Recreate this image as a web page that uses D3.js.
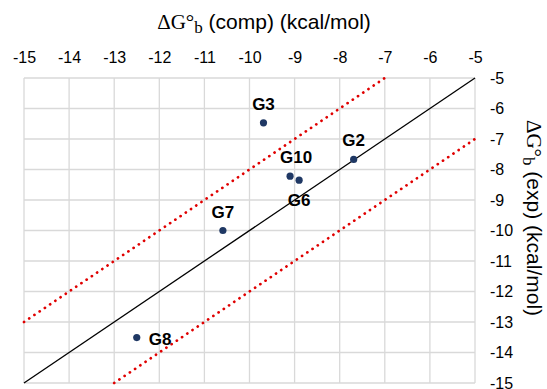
<!DOCTYPE html>
<html>
<head>
<meta charset="utf-8">
<script src="https://cdn.jsdelivr.net/npm/d3@7"></script>
<style>
  html, body { margin: 0; padding: 0; background: #fff; }
  svg { display: block; }
</style>
</head>
<body>
<svg id="chart" width="547" height="389"></svg>
<script>
// Binding free energies: computed vs experimental (kcal/mol)
const names = ["G2", "G3", "G6", "G7", "G8", "G10"];
const compValues = [-7.69, -9.69, -8.90, -10.59, -12.50, -9.10];
const expValues = [-7.67, -6.47, -8.35, -10.00, -13.51, -8.22];
const labelSides = ["above", "above", "below", "above", "right", "above"];
const tickValues = [-15, -14, -13, -12, -11, -10, -9, -8, -7, -6, -5];
const axisDomain = [-15, -5];
const bandOffsets = [2, -2];

const svg = d3.select("#chart");
const plotLeft = 24, plotRight = 475, plotTop = 78, plotBottom = 383;

const x = d3.scaleLinear().domain(axisDomain).range([plotLeft, plotRight]);
const y = d3.scaleLinear().domain(axisDomain).range([plotBottom, plotTop]);

const gridColor = "#d9d9d9";
const fontSans = "'Liberation Sans', Arial, sans-serif";
const fontSerif = "'Liberation Serif', 'Times New Roman', serif";
const fmt = d => d3.format("d")(d).replace("\u2212", "-");

// Grid
const grid = svg.append("g");
grid.selectAll("line.vx").data(tickValues).join("line")
  .attr("class", "vx")
  .attr("x1", d => x(d)).attr("x2", d => x(d))
  .attr("y1", plotTop).attr("y2", plotBottom)
  .attr("stroke", gridColor).attr("stroke-width", 1.3);
grid.selectAll("line.hy").data(tickValues).join("line")
  .attr("class", "hy")
  .attr("y1", d => y(d)).attr("y2", d => y(d))
  .attr("x1", plotLeft).attr("x2", plotRight)
  .attr("stroke", gridColor).attr("stroke-width", 1.3);

// Top axis labels
const xAxis = d3.axisTop(x).tickValues(tickValues).tickSize(0).tickPadding(0).tickFormat(fmt);
const gx = svg.append("g").attr("transform", `translate(0,${plotTop - 15})`).call(xAxis);
gx.select(".domain").remove();
gx.selectAll("text").attr("font-family", fontSans).attr("font-size", 16)
  .attr("fill", "#000").attr("dy", 0);

// Right axis labels
const yAxis = d3.axisRight(y).tickValues(tickValues).tickSize(0).tickPadding(0).tickFormat(fmt);
const gy = svg.append("g").attr("transform", `translate(${plotRight + 15},0)`).call(yAxis);
gy.select(".domain").remove();
gy.selectAll("text").attr("font-family", fontSans).attr("font-size", 16)
  .attr("fill", "#000").attr("text-anchor", "start");

// Identity line y = x
const lineGen = d3.line().x(d => x(d[0])).y(d => y(d[1]));
svg.append("path")
  .datum([[axisDomain[0], axisDomain[0]], [axisDomain[1], axisDomain[1]]])
  .attr("d", lineGen).attr("fill", "none")
  .attr("stroke", "#000").attr("stroke-width", 1.3);

// ±2 kcal/mol bands, clipped to the plot
bandOffsets.forEach(off => {
  const x0 = Math.max(axisDomain[0], axisDomain[0] - off);
  const x1 = Math.min(axisDomain[1], axisDomain[1] - off);
  svg.append("path")
    .datum([[x0, x0 + off], [x1, x1 + off]])
    .attr("d", lineGen).attr("fill", "none")
    .attr("stroke", "#e00000").attr("stroke-width", 2.7)
    .attr("stroke-linecap", "round")
    .attr("stroke-dasharray", "0.1 6.2");
});

// Data points
const data = names.map((n, i) => ({ name: n, comp: compValues[i], exp: expValues[i], side: labelSides[i] }));
svg.append("g").selectAll("circle").data(data).join("circle")
  .attr("cx", d => x(d.comp)).attr("cy", d => y(d.exp))
  .attr("r", 3.6).attr("fill", "#1f3864");

// Point labels
svg.append("g").selectAll("text").data(data).join("text")
  .attr("font-family", fontSans).attr("font-size", 17).attr("font-weight", "bold")
  .attr("fill", "#000")
  .attr("text-anchor", d => d.side === "right" ? "start" : "middle")
  .attr("x", d => {
    if (d.side === "right") return x(d.comp) + 12;
    if (d.name === "G10") return x(d.comp) + 6;
    return x(d.comp);
  })
  .attr("y", d => {
    if (d.side === "above") return y(d.exp) - 13;
    if (d.side === "below") return y(d.exp) + 26;
    return y(d.exp) + 7;
  })
  .text(d => d.name);

// Axis titles
const topTitle = svg.append("text")
  .attr("x", 264).attr("y", 29).attr("text-anchor", "middle")
  .attr("font-size", 21).attr("fill", "#000");
topTitle.append("tspan").attr("font-family", fontSerif).text("ΔG°");
topTitle.append("tspan").attr("font-family", fontSerif).attr("font-size", 17).attr("dy", 4).text("b");
topTitle.append("tspan").attr("font-family", fontSans).attr("dy", -4).text(" (comp) (kcal/mol)");

const sideTitle = svg.append("text")
  .attr("transform", "translate(527,218) rotate(90)")
  .attr("text-anchor", "middle")
  .attr("font-size", 21).attr("fill", "#000");
sideTitle.append("tspan").attr("font-family", fontSerif).text("ΔG°");
sideTitle.append("tspan").attr("font-family", fontSerif).attr("font-size", 17).attr("dy", 4).text("b");
sideTitle.append("tspan").attr("font-family", fontSans).attr("dy", -4).text(" (exp) (kcal/mol)");
</script>
</body>
</html>
